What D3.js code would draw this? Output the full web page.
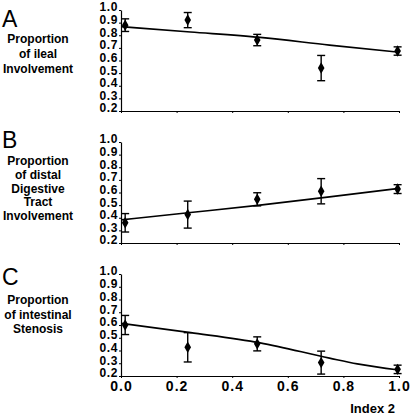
<!DOCTYPE html>
<html>
<head>
<meta charset="utf-8">
<script src="https://cdn.jsdelivr.net/npm/d3@7"></script>
<style>
  html, body { margin: 0; padding: 0; background: #fff; }
  svg { display: block; font-family: "Liberation Sans", Arial, Helvetica, sans-serif; }
</style>
</head>
<body>
<svg id="chart" width="410" height="415"></svg>
<script>
// ---- data ----
const panelLetters = ["A", "B", "C"];
const panelTitles = [
  ["Proportion", "of ileal", "Involvement"],
  ["Proportion", "of distal", "Digestive", "Tract", "Involvement"],
  ["Proportion", "of intestinal", "Stenosis"]
];
const indexX = [0.015, 0.24, 0.49, 0.72, 0.995];
const ilealMean = [0.88, 0.92, 0.762, 0.54, 0.675];
const ilealErr = [0.05, 0.06, 0.045, 0.10, 0.033];
const distalMean = [0.36, 0.425, 0.546, 0.61, 0.627];
const distalErr = [0.073, 0.107, 0.052, 0.10, 0.035];
const stenosisMean = [0.60, 0.425, 0.452, 0.305, 0.252];
const stenosisErr = [0.075, 0.115, 0.055, 0.09, 0.033];
const fitXA = [0, 0.25, 0.5, 0.75, 1.0];
const fitA = [0.868, 0.826, 0.783, 0.722, 0.665];
const fitXB = [0, 0.25, 0.5, 0.75, 1.0];
const fitB = [0.383, 0.441, 0.50, 0.565, 0.633];
const fitXC = [0, 0.25, 0.5, 0.75, 0.85, 1.0];
const fitC = [0.613, 0.54, 0.46, 0.34, 0.295, 0.247];
const yTicks = [0.2, 0.3, 0.4, 0.5, 0.6, 0.7, 0.8, 0.9, 1.0];
const xTicks = [0.0, 0.2, 0.4, 0.6, 0.8, 1.0];
const xLabel = "Index 2";

// ---- layout ----
const svg = d3.select("#chart");
const x = d3.scaleLinear().domain([0, 1]).range([121, 399]);
const panels = [
  { mean: ilealMean, err: ilealErr, fx: fitXA, fy: fitA, y0: 111, y1: 10, letterY: 27, titleY: [43, 58, 73], spacing: 15 },
  { mean: distalMean, err: distalErr, fx: fitXB, fy: fitB, y0: 243, y1: 142, letterY: 148, titleY: null, first: 165, spacing: 13.8 },
  { mean: stenosisMean, err: stenosisErr, fx: fitXC, fy: fitC, y0: 376, y1: 274, letterY: 285, titleY: null, first: 304, spacing: 14.7 }
];

panels.forEach((p, i) => {
  const y = d3.scaleLinear().domain([0.2, 1.0]).range([p.y0, p.y1]);
  const g = svg.append("g");

  // panel letter
  g.append("text").attr("x", 2).attr("y", p.letterY)
    .attr("font-size", 23).attr("font-weight", "normal").text(panelLetters[i]);

  // side title
  const lines = panelTitles[i];
  lines.forEach((t, k) => {
    const ty = p.titleY ? p.titleY[k] : p.first + k * p.spacing;
    g.append("text").attr("x", 38).attr("y", ty)
      .attr("text-anchor", "middle").attr("font-size", 12).attr("font-weight", "bold")
      .text(t);
  });

  // y axis
  const yAxis = d3.axisLeft(y).tickValues(yTicks).tickFormat(d3.format(".1f"))
    .tickSize(2).tickSizeOuter(0).tickPadding(1);
  const ya = g.append("g").attr("transform", `translate(${x(0)},0)`).call(yAxis);
  ya.select(".domain").attr("stroke", "#000").attr("stroke-width", 1.2);
  ya.selectAll(".tick line").attr("stroke", "#000");
  ya.selectAll(".tick text")
    .attr("font-size", 12).attr("font-weight", "bold").attr("fill", "#000")
    .attr("font-family", "Liberation Sans, Arial, sans-serif")
    .attr("letter-spacing", 0.6)
    .attr("dy", "0.08em");

  // x axis
  const xAxis = d3.axisBottom(x).tickValues(xTicks).tickSize(2).tickSizeOuter(0).tickPadding(3)
    .tickFormat(i === 2 ? d3.format(".1f") : () => "");
  const xa = g.append("g").attr("transform", `translate(0,${p.y0})`).call(xAxis);
  xa.select(".domain").attr("stroke", "#000").attr("stroke-width", 1.2);
  xa.selectAll(".tick line").attr("stroke", "#000");
  xa.selectAll(".tick text")
    .attr("font-size", 14).attr("font-weight", "bold").attr("fill", "#000")
    .attr("font-family", "Liberation Sans, Arial, sans-serif")
    .attr("letter-spacing", 1);

  // fit line
  const line = d3.line().curve(d3.curveMonotoneX).x(d => x(d[0])).y(d => y(d[1]));
  g.append("path").datum(p.fx.map((v, k) => [v, p.fy[k]]))
    .attr("d", line).attr("fill", "none").attr("stroke", "#000").attr("stroke-width", 1.6);

  // error bars
  const pts = indexX.map((v, k) => ({ x: v, m: p.mean[k], e: p.err[k] }));
  const eb = g.append("g").attr("stroke", "#000").attr("stroke-width", 1.4);
  pts.forEach(d => {
    const cx = x(d.x);
    eb.append("line").attr("x1", cx).attr("x2", cx).attr("y1", y(d.m + d.e)).attr("y2", y(d.m - d.e));
    eb.append("line").attr("x1", cx - 4).attr("x2", cx + 4).attr("y1", y(d.m + d.e)).attr("y2", y(d.m + d.e));
    eb.append("line").attr("x1", cx - 4).attr("x2", cx + 4).attr("y1", y(d.m - d.e)).attr("y2", y(d.m - d.e));
  });

  // diamond markers
  const sym = d3.symbol().type(d3.symbolDiamond).size(38);
  g.selectAll("path.pt").data(pts).enter().append("path")
    .attr("class", "pt")
    .attr("transform", d => `translate(${x(d.x)},${y(d.m)})`)
    .attr("d", sym).attr("fill", "#000");
});

// x axis title
svg.append("text").attr("x", 395).attr("y", 413).attr("text-anchor", "end")
  .attr("font-size", 13).attr("font-weight", "bold").text(xLabel);
</script>
</body>
</html>
